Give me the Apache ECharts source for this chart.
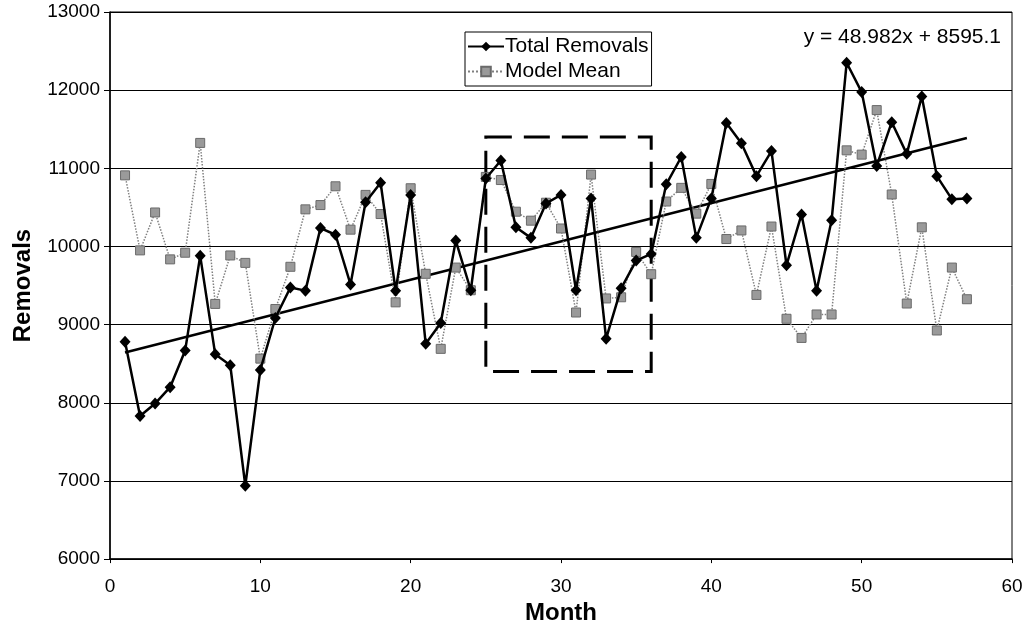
<!DOCTYPE html>
<html>
<head>
<meta charset="utf-8">
<script src="https://cdn.jsdelivr.net/npm/echarts@6/dist/echarts.min.js"></script>
<style>html,body{margin:0;padding:0;background:#fff}#c{width:1029px;height:630px}</style>
</head>
<body>
<div id="c"></div>
<script>
const months = [1,2,3,4,5,6,7,8,9,10,11,12,13,14,15,16,17,18,19,20,21,22,23,24,25,26,27,28,29,30,31,32,33,34,35,36,37,38,39,40,41,42,43,44,45,46,47,48,49,50,51,52,53,54,55,56,57];
const totalRemovals = [8780,7830,7990,8200,8670,9880,8620,8480,6940,8420,9085,9475,9435,10235,10150,9515,10565,10815,9435,10660,8755,9020,10075,9440,10870,11100,10245,10110,10550,10660,9440,10615,8820,9465,9820,9905,10795,11145,10110,10615,11580,11320,10900,11220,9760,10410,9435,10335,12350,11975,11030,11590,11185,11920,10900,10605,10615];
const modelMean = [10910,9950,10435,9835,9920,11325,9265,9885,9790,8565,9200,9740,10475,10530,10770,10215,10660,10415,9285,10745,9650,8690,9730,9440,10890,10850,10445,10330,10560,10230,9155,10920,9335,9350,9930,9645,10575,10750,10420,10800,10095,10205,9380,10255,9075,8830,9130,9130,11230,11175,11745,10665,9270,10245,8925,9730,9325];
const trendEnds = [[1, 8644], [57, 11387]];
const boxCorners = [[25, 11400], [36, 8400]];
const xTicks = [0, 60, 10];
const yTicks = [6000, 13000, 1000];
const equationText = 'y = 48.982x + 8595.1';

const font = 'Liberation Sans, Arial, sans-serif';
const chart = echarts.init(document.getElementById('c'), null, {renderer: 'canvas'});
chart.setOption({
  animation: false,
  backgroundColor: '#fff',
  textStyle: {fontFamily: font},
  title: {
    text: equationText, right: 23, top: 22,
    textStyle: {fontFamily: font, fontSize: 21, fontWeight: 'normal', color: '#000'}
  },
  legend: {
    data: ['Total Removals', 'Model Mean'],
    orient: 'vertical', left: 465, top: 32,
    borderColor: '#000', borderWidth: 1, padding: [4, 3, 4, 2],
    itemGap: 4, itemWidth: 36, itemHeight: 12,
    textStyle: {fontFamily: font, fontSize: 21, color: '#000', padding: [0, 0, 0, -4]}
  },
  grid: {left: 110, right: 17, top: 12, bottom: 66, show: true, borderColor: '#000', borderWidth: 1},
  xAxis: {
    type: 'value', min: xTicks[0], max: xTicks[1], interval: xTicks[2],
    name: 'Month', nameLocation: 'middle', nameGap: 37,
    nameTextStyle: {fontFamily: font, fontSize: 24, fontWeight: 'bold', color: '#000'},
    axisLine: {show: true, lineStyle: {color: '#000', width: 1.5}},
    axisTick: {show: true, length: 4, lineStyle: {color: '#000'}},
    axisLabel: {fontFamily: font, fontSize: 19, color: '#000', margin: 18},
    splitLine: {show: false}
  },
  yAxis: {
    type: 'value', min: yTicks[0], max: yTicks[1], interval: yTicks[2],
    name: 'Removals', nameLocation: 'middle', nameGap: 75, nameRotate: 90,
    nameTextStyle: {fontFamily: font, fontSize: 24, fontWeight: 'bold', color: '#000'},
    axisLine: {show: true, lineStyle: {color: '#000', width: 1.5}},
    axisTick: {show: true, length: 6, lineStyle: {color: '#000'}},
    axisLabel: {fontFamily: font, fontSize: 19, color: '#000', margin: 10, formatter: v => String(v)},
    splitLine: {show: true, lineStyle: {color: '#000', width: 1}}
  },
  series: [
    {
      name: 'Trend', type: 'line', data: trendEnds, symbol: 'none', silent: true,
      lineStyle: {color: '#000', width: 2.5}, z: 1,
      markArea: {
        silent: true,
        itemStyle: {color: 'rgba(0,0,0,0)', borderColor: '#000', borderWidth: 3, borderType: [26, 12]},
        data: [[{coord: boxCorners[0]}, {coord: boxCorners[1]}]]
      }
    },
    {
      name: 'Model Mean', type: 'line',
      data: months.map((m, i) => [m, modelMean[i]]),
      symbol: 'rect', symbolSize: 9,
      lineStyle: {color: '#808080', width: 1.5, type: 'dotted'},
      itemStyle: {color: '#9a9a9a', borderColor: '#6a6a6a', borderWidth: 1},
      z: 2
    },
    {
      name: 'Total Removals', type: 'line',
      data: months.map((m, i) => [m, totalRemovals[i]]),
      symbol: 'diamond', symbolSize: [11, 12],
      lineStyle: {color: '#000', width: 2.5},
      itemStyle: {color: '#000'},
      z: 3
    }
  ]
});
</script>
</body>
</html>
